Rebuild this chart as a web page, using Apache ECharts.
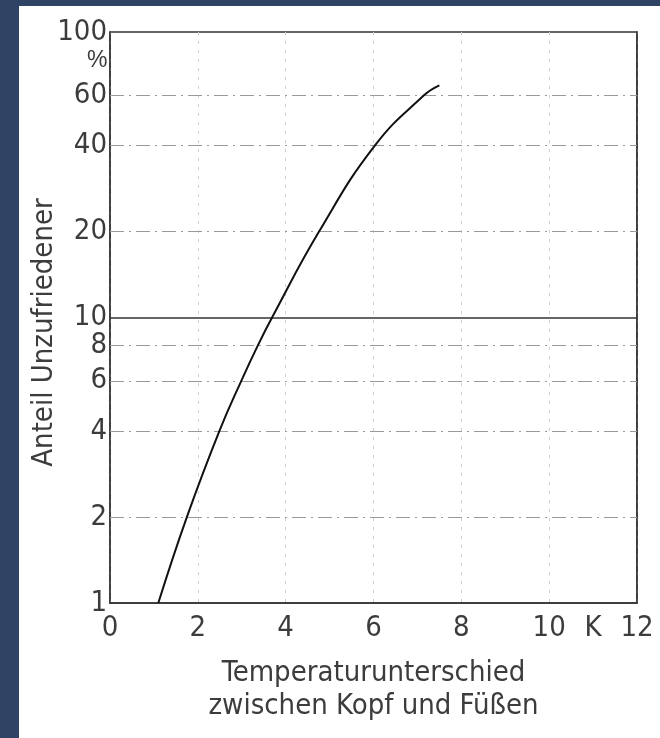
<!DOCTYPE html>
<html>
<head>
<meta charset="utf-8">
<script src="https://cdn.jsdelivr.net/npm/echarts@6/dist/echarts.min.js"></script>
<style>
html,body{margin:0;padding:0;background:#2f4365;}
#wrap{position:absolute;left:19px;top:6px;right:0;bottom:0;background:#fff;overflow:hidden;}
#c{position:absolute;left:-19px;top:-6px;width:660px;height:738px;}
</style>
</head>
<body>
<div id="wrap"><div id="c"></div></div>
<script>
// Data
const curveX = [1.10, 1.75, 2.49, 2.99, 3.37, 3.69, 4.76, 6.03, 7.15, 7.50];
const curveY = [1, 2, 4, 6, 8, 10, 20, 40, 60, 65];
const yTickValues = [1, 2, 4, 6, 8, 10, 20, 40, 60, 100];
const yDashedGrid = [2, 4, 6, 8, 20, 40, 60];
const ySolidGrid = [10];
const xTickValues = [0, 2, 4, 6, 8, 10, 11, 12];
const xTickLabels = ['0', '2', '4', '6', '8', '10', 'K', '12'];
const xAxisTitle = 'Temperaturunterschied\nzwischen Kopf und Füßen';
const yAxisTitle = 'Anteil Unzufriedener';
const yUnit = '%';

const FONT = "'Liberation Sans Narrow', 'DejaVu Sans Condensed', 'Liberation Sans', sans-serif";
const TXT = '#3c3c3c';

const chart = echarts.init(document.getElementById('c'), null, {renderer: 'canvas'});
const gridDash = {color: '#9a9a9a', width: 1.2, type: [14, 5, 2, 5]};
chart.setOption({
  backgroundColor: 'transparent',
  animation: false,
  grid: {left: 110, right: 23, top: 32, bottom: 135, show: true, borderColor: '#333', borderWidth: 1.5, backgroundColor: 'transparent'},
  xAxis: {
    type: 'value', min: 0, max: 12, interval: 2,
    axisLine: {show: true, lineStyle: {color: '#333', width: 1.5}},
    axisTick: {show: false},
    axisLabel: {
      customValues: xTickValues,
      formatter: v => xTickLabels[xTickValues.indexOf(v)] ?? '',
      color: TXT, fontFamily: FONT, fontSize: 29, margin: 11
    },
    splitLine: {show: true, lineStyle: {color: '#cfcfcf', width: 1, type: [3, 6]}},
    name: xAxisTitle, nameLocation: 'middle', nameGap: 54, nameMoveOverlap: false,
    nameTextStyle: {color: TXT, fontFamily: FONT, fontSize: 29, lineHeight: 33}
  },
  yAxis: [{
    type: 'log', logBase: 10, min: 1, max: 100,
    axisLine: {show: true, lineStyle: {color: '#333', width: 1.5}},
    axisTick: {show: false},
    axisLabel: {
      customValues: yTickValues,
      formatter: v => String(Math.round(v)),
      color: TXT, fontFamily: FONT, fontSize: 29, margin: 3
    },
    splitLine: {show: false},
    name: yAxisTitle, nameLocation: 'middle', nameGap: 51, nameRotate: 90, nameMoveOverlap: false,
    nameTextStyle: {color: TXT, fontFamily: FONT, fontSize: 29, padding: [0, 30, 0, 0]}
  }, {
    type: 'log', logBase: 10, min: 1, max: 100, position: 'right',
    axisLine: {show: true, lineStyle: {color: '#333', width: 1.5}},
    axisTick: {show: false}, axisLabel: {show: false}, splitLine: {show: false}
  }],
  graphic: [{
    type: 'text', left: 87, top: 49,
    style: {text: yUnit, fill: TXT, font: "23px 'Liberation Sans Narrow', sans-serif"}
  }],
  series: [{
    type: 'line',
    data: curveX.map((x, i) => [x, curveY[i]]),
    smooth: 0.45,
    showSymbol: false,
    lineStyle: {color: '#111', width: 2},
    z: 5,
    markLine: {
      silent: true, symbol: 'none', label: {show: false},
      data: yDashedGrid.map(v => ({yAxis: v, lineStyle: gridDash}))
        .concat(ySolidGrid.map(v => ({yAxis: v, lineStyle: {color: '#333', width: 1.5, type: 'solid'}})))
    }
  }]
});
</script>
</body>
</html>
